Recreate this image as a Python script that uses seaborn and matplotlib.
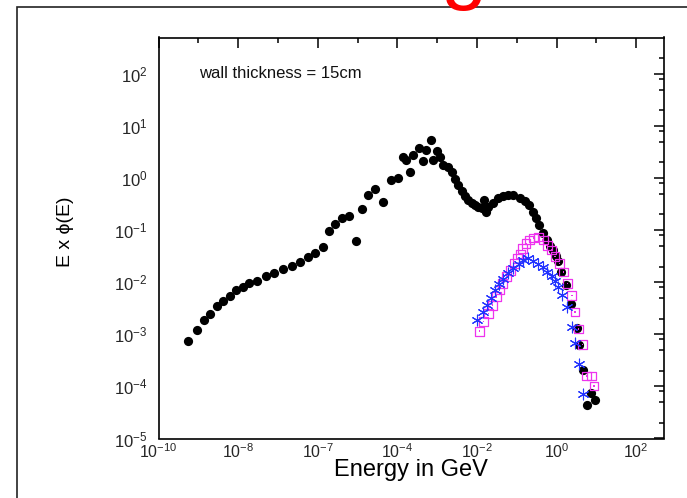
import numpy as np
import pandas as pd
import seaborn as sns
import matplotlib
matplotlib.use("Agg")
import matplotlib.pyplot as plt
from matplotlib.ticker import FixedLocator, NullFormatter
from matplotlib.patches import Rectangle

# ---------------- data ----------------
total_energy = [5.37e-10, 8.91e-10, 1.35e-9, 2.0e-9, 2.88e-9, 4.17e-9, 6.03e-9, 8.91e-9,
                1.32e-8, 1.91e-8, 2.95e-8, 4.90e-8, 7.94e-8, 1.32e-7, 2.19e-7, 3.63e-7,
                5.75e-7, 8.51e-7, 1.32e-6, 1.95e-6, 2.75e-6, 4.07e-6, 6.03e-6, 8.91e-6,
                1.26e-5, 1.86e-5, 2.75e-5, 4.27e-5, 6.92e-5, 1.02e-4, 1.35e-4, 1.62e-4,
                2.04e-4, 2.40e-4, 3.55e-4, 4.27e-4, 5.25e-4, 6.76e-4, 7.94e-4, 1.0e-3,
                1.18e-3, 1.38e-3, 1.91e-3, 2.29e-3, 2.75e-3, 3.39e-3, 4.07e-3, 5.01e-3,
                6.03e-3, 7.24e-3, 8.91e-3, 1.07e-2, 1.32e-2, 1.48e-2, 1.66e-2, 1.91e-2,
                2.57e-2, 3.39e-2, 4.57e-2, 6.03e-2, 8.13e-2, 0.120, 0.158, 0.204,
                0.251, 0.302, 0.355, 0.447, 0.562, 0.676, 0.813, 0.955,
                1.10, 1.32, 1.70, 2.24, 3.16, 3.72, 4.47, 7.08, 9.12, 5.62]
total_flux = [7.41e-4, 1.20e-3, 1.86e-3, 2.51e-3, 3.47e-3, 4.37e-3, 5.50e-3, 7.08e-3,
              8.13e-3, 9.55e-3, 1.05e-2, 1.29e-2, 1.51e-2, 1.78e-2, 2.09e-2, 2.45e-2,
              3.09e-2, 3.72e-2, 4.79e-2, 9.55e-2, 0.132, 0.170, 0.191, 6.31e-2,
              0.251, 0.468, 0.617, 0.355, 0.912, 1.02, 2.57, 2.24,
              1.32, 2.75, 3.72, 2.14, 3.47, 5.37, 2.24, 3.31,
              2.57, 1.78, 1.66, 1.32, 0.977, 0.741, 0.562, 0.457,
              0.380, 0.339, 0.302, 0.282, 0.263, 0.380, 0.219, 0.282,
              0.339, 0.417, 0.457, 0.479, 0.468, 0.417, 0.363, 0.302,
              0.224, 0.170, 0.126, 8.71e-2, 6.46e-2, 5.01e-2, 4.17e-2, 3.24e-2,
              2.51e-2, 1.58e-2, 8.91e-3, 3.89e-3, 1.32e-3, 6.17e-4, 2.04e-4, 7.41e-5,
              5.50e-5, 4.37e-5]

square_energy = [1.15e-2, 1.45e-2, 1.91e-2, 2.40e-2, 3.02e-2, 3.63e-2, 4.37e-2, 5.50e-2,
                 6.92e-2, 8.91e-2, 0.102, 0.123, 0.138, 0.170, 0.204, 0.257,
                 0.347, 0.457, 0.575, 0.741, 0.912, 1.17, 1.48, 1.86,
                 2.40, 2.88, 3.55, 4.47, 5.62, 7.59, 8.71]
square_flux = [1.15e-3, 1.74e-3, 2.51e-3, 3.63e-3, 5.25e-3, 7.08e-3, 9.55e-3, 1.29e-2,
               1.70e-2, 2.29e-2, 2.88e-2, 3.47e-2, 4.37e-2, 5.62e-2, 6.46e-2, 7.08e-2,
               7.41e-2, 6.46e-2, 5.13e-2, 4.17e-2, 3.09e-2, 2.29e-2, 1.58e-2, 9.55e-3,
               5.50e-3, 2.69e-3, 1.26e-3, 6.46e-4, 1.58e-4, 1.58e-4, 1.02e-4]

star_energy = [9.77e-3, 1.38e-2, 1.74e-2, 2.19e-2, 2.82e-2, 3.63e-2, 4.57e-2, 6.03e-2,
               8.13e-2, 0.110, 0.145, 0.195, 0.257, 0.347, 0.457, 0.575,
               0.741, 0.912, 1.10, 1.35, 1.78, 2.40, 2.88, 3.55, 4.47]
star_flux = [1.86e-3, 2.63e-3, 3.63e-3, 5.01e-3, 7.08e-3, 9.12e-3, 1.15e-2, 1.48e-2,
             1.91e-2, 2.29e-2, 2.69e-2, 2.88e-2, 2.57e-2, 2.29e-2, 2.0e-2, 1.58e-2,
             1.29e-2, 1.05e-2, 8.13e-3, 5.62e-3, 3.39e-3, 1.41e-3, 6.76e-4, 2.75e-4, 7.08e-5]

x_tick_values = [1e-10, 1e-8, 1e-6, 1e-4, 1e-2, 1e0, 1e2]
x_tick_labels = ["10^{-10}", "10^{-8}", "10^{-7}", "10^{-4}", "10^{-2}", "10^{0}", "10^{2}"]
x_minor_values = [1e-9, 1e-7, 1e-5, 1e-3, 1e-1, 1e1]
y_tick_values = [1e-5, 1e-4, 1e-3, 1e-2, 1e-1, 1e0, 1e1, 1e2]
y_tick_labels = ["10^{-5}", "10^{-4}", "10^{-3}", "10^{-2}", "10^{-1}", "10^{0}", "10^{1}", "10^{2}"]
annotation = "wall thickness = 15cm"
x_label = "Energy in GeV"
y_label = "E x \u03d5(E)"

# ---------------- style ----------------
sns.set_theme(style="white")
plt.rcParams["font.family"] = ["Liberation Sans", "DejaVu Sans"]
plt.rcParams["mathtext.fontset"] = "custom"
plt.rcParams["mathtext.rm"] = "Liberation Sans"
plt.rcParams["mathtext.it"] = "Liberation Sans:italic"
plt.rcParams["mathtext.bf"] = "Liberation Sans:bold"

W, H = 687, 498
fig = plt.figure(figsize=(W / 100, H / 100), dpi=100)
fig.patch.set_facecolor("white")

left, right, top, bottom = 158.7, 664.1, 37.5, 438.5
ax = fig.add_axes([left / W, 1 - bottom / H, (right - left) / W, (bottom - top) / H])
ax.set_facecolor("white")

df_total = pd.DataFrame({"E": total_energy, "F": total_flux})
df_sq = pd.DataFrame({"E": square_energy, "F": square_flux})
df_st = pd.DataFrame({"E": star_energy, "F": star_flux})

sns.scatterplot(data=df_total, x="E", y="F", ax=ax, marker="o", s=44,
                color="black", edgecolor="black", linewidth=0, zorder=3)
sns.scatterplot(data=df_sq, x="E", y="F", ax=ax, marker="s", s=40,
                facecolor="none", edgecolor="#ee33ee", linewidth=0.9, zorder=4)
sns.scatterplot(data=df_sq, x="E", y="F", ax=ax, marker="s", s=1.0,
                color="#ee33ee", edgecolor="none", linewidth=0, zorder=4)
sns.scatterplot(data=df_st, x="E", y="F", ax=ax, marker=(6, 2, 0), s=60,
                color="#2233ff", linewidth=0.8, zorder=5)

ax.set_xscale("log")
ax.set_yscale("log")
ax.set_xlim(1e-10, 500)
ax.set_ylim(1e-5, 500)

ax.xaxis.set_major_locator(FixedLocator(x_tick_values))
ax.set_xticklabels([r"$\mathregular{" + t + "}$" for t in x_tick_labels])
ax.xaxis.set_minor_locator(FixedLocator(x_minor_values))
ax.xaxis.set_minor_formatter(NullFormatter())

y_minor = []
for d in y_tick_values:
    for m in (2, 5, 8):
        if d * m < 500:
            y_minor.append(d * m)
ax.yaxis.set_major_locator(FixedLocator(y_tick_values))
ax.set_yticklabels([r"$\mathregular{" + t + "}$" for t in y_tick_labels])
ax.yaxis.set_minor_locator(FixedLocator(y_minor))
ax.yaxis.set_minor_formatter(NullFormatter())

ax.tick_params(which="both", direction="in", top=True, right=True,
               color="black", width=1.1)
ax.tick_params(which="major", length=7)
ax.tick_params(which="minor", length=3.6)
ax.tick_params(axis="x", which="major", labelsize=11.5, pad=3)
ax.tick_params(axis="y", which="major", labelsize=12, pad=8)
for sp in ax.spines.values():
    sp.set_color("black")
    sp.set_linewidth(1.2)

ax.set_xlabel(x_label, fontsize=17, color="black")
ax.xaxis.set_label_coords(0.5, -0.05)
ax.xaxis.label.set_va("top")
ax.set_ylabel(y_label, fontsize=14, color="black")
ax.yaxis.set_label_coords(-0.168, 0.515)

ax.text((199 - left) / (right - left), (bottom - 73) / (bottom - top), annotation,
        transform=ax.transAxes, fontsize=12, ha="left", va="center", color="#111111")

# outer slide frame and clipped red title glyph
fig.add_artist(Rectangle((17 / W, -0.2), 1.5, 1.2 - 6.7 / H, transform=fig.transFigure,
                         fill=False, edgecolor="#222222", linewidth=1.2, clip_on=False))
fig.text(464 / W, 1 + 6 / H, "g", color="#ff0000", fontsize=60, ha="center",
         va="baseline")

fig.savefig("out.png", dpi=100)
